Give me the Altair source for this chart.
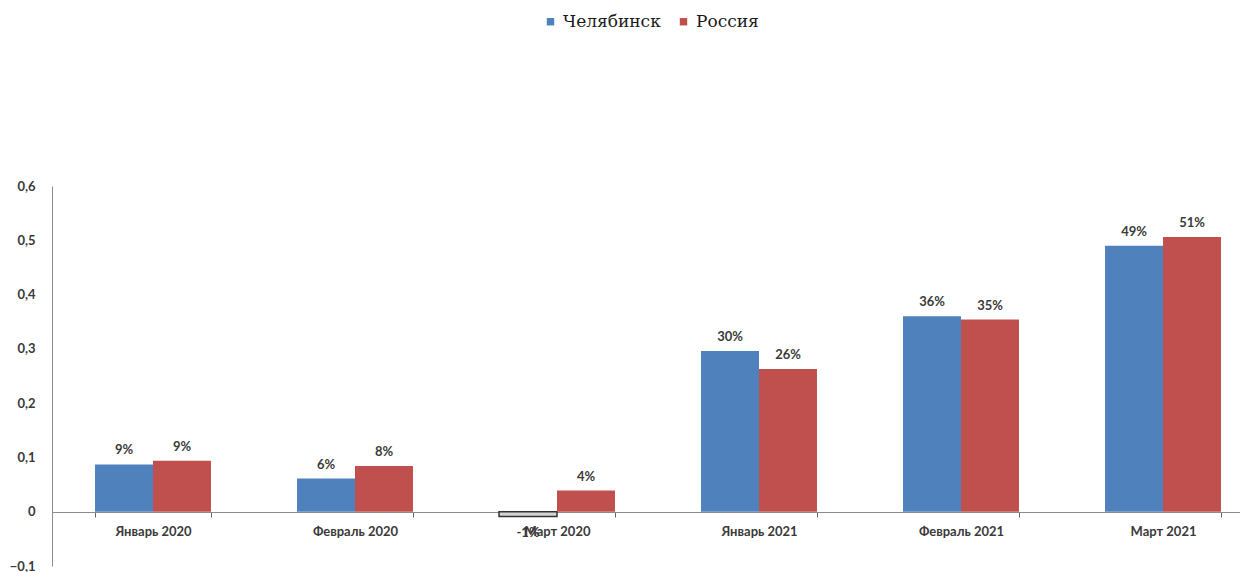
import altair as alt
import pandas as pd

months = ["Январь 2020", "Февраль 2020", "Март 2020", "Январь 2021", "Февраль 2021", "Март 2021"]
series = ["Челябинск", "Россия"]
chel = [0.087, 0.061, -0.009, 0.296, 0.360, 0.490]
rus = [0.094, 0.084, 0.039, 0.263, 0.354, 0.506]
chel_labels = ["9%", "6%", "-1%", "30%", "36%", "49%"]
rus_labels = ["9%", "8%", "4%", "26%", "35%", "51%"]
colors = ["#4f81bd", "#c0504d"]
y_ticks = [-0.1, 0, 0.1, 0.2, 0.3, 0.4, 0.5, 0.6]

rows = []
for i, m in enumerate(months):
    rows.append({"month": m, "series": series[0], "value": chel[i], "label": chel_labels[i]})
    rows.append({"month": m, "series": series[1], "value": rus[i], "label": rus_labels[i]})
df = pd.DataFrame(rows)

FONT = "Lato"
TXT = "#3a3a3a"
AX = "#8c8c8c"

x = alt.X(
    "month:N", sort=months, title=None,
    scale=alt.Scale(range=[0, 1212], paddingInner=0.426, paddingOuter=0.213),
    axis=alt.Axis(orient="bottom", offset=-54, labelAngle=0, domainColor=AX,
                  tickColor="#666666", tickSize=5, tickWidth=1, tickBand="extent",
                  labelFont=FONT, labelFontSize=13, labelFontWeight="bold",
                  labelColor=TXT, labelPadding=8, grid=False),
)
xo = alt.XOffset("series:N", sort=series)
y = alt.Y(
    "value:Q", title=None,
    scale=alt.Scale(domain=[-0.1, 0.6], nice=False),
    axis=alt.Axis(values=y_ticks, ticks=False, grid=False, domainColor=AX,
                  labelExpr="datum.value == 0 ? '0' : replace(format(datum.value, '.1f'), '.', ',')",
                  labelFont=FONT, labelFontSize=13, labelFontWeight="bold",
                  labelColor=TXT, labelPadding=17),
)

base = alt.Chart(df)

bars = base.mark_bar().encode(
    x=x, xOffset=xo, y=y,
    color=alt.condition(
        "datum.value < 0",
        alt.value("#d4d4d4"),
        alt.Color("series:N", sort=series,
                  scale=alt.Scale(domain=series, range=colors),
                  legend=alt.Legend(orient="none", legendX=490, legendY=-173,
                                    direction="horizontal", title=None,
                                    symbolType="square", symbolSize=55,
                                    labelFont="DejaVu Serif", labelFontSize=17,
                                    labelColor="#1a1a1a", columnPadding=14)),
    ),
    stroke=alt.condition("datum.value < 0", alt.value("#333333"), alt.value("transparent")),
    strokeWidth=alt.value(1.5),
)

pos_text = base.transform_filter("datum.value >= 0").mark_text(
    baseline="bottom", dy=-7, font=FONT, fontSize=13, fontWeight="bold", color=TXT
).encode(x=x, xOffset=xo, y=y, text="label:N")

neg_text = base.transform_filter("datum.value < 0").mark_text(
    baseline="top", dy=10, font=FONT, fontSize=13, fontWeight="bold", color=TXT
).encode(x=x, xOffset=xo, y=y, text="label:N")

chart = alt.layer(bars, pos_text, neg_text).properties(
    width=1188, height=380,
    autosize=alt.AutoSizeParams(type="none"),
    padding={"left": 44, "top": 178, "right": 0, "bottom": 6},
).configure_view(stroke=None)

chart.save("out.html", embed_options={"renderer": "svg", "actions": False})
